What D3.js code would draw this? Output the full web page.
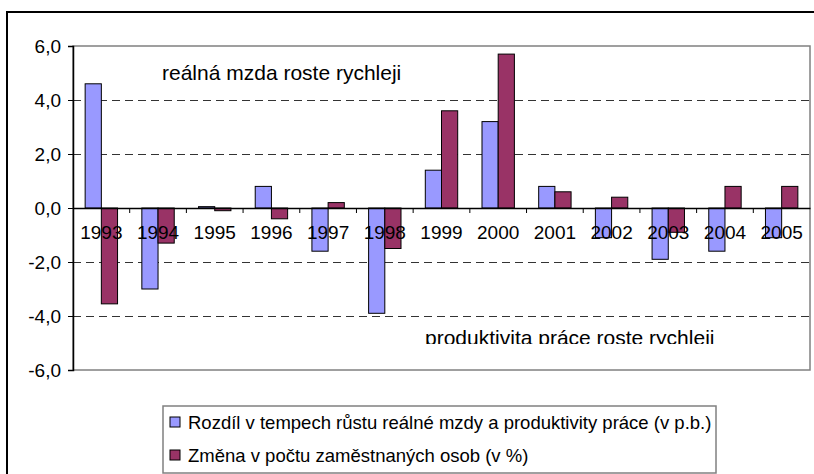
<!DOCTYPE html>
<html>
<head>
<meta charset="utf-8">
<script src="https://d3js.org/d3.v7.min.js"></script>
<style>
  body { margin: 0; background: #fff; }
  text { font-family: "Liberation Sans", Arial, sans-serif; fill: #000; }
</style>
</head>
<body>
<svg width="814" height="474"></svg>
<script>
// chart data
var years = ["1993","1994","1995","1996","1997","1998","1999","2000","2001","2002","2003","2004","2005"];
var wageGap = [4.6, -3.0, 0.05, 0.8, -1.6, -3.9, 1.4, 3.2, 0.8, -1.1, -1.9, -1.6, -1.1];
var employment = [-3.55, -1.3, -0.1, -0.4, 0.2, -1.5, 3.6, 5.7, 0.6, 0.4, -0.9, 0.8, 0.8];
var yTicks = [-6, -4, -2, 0, 2, 4, 6];
var yTickLabels = ["-6,0", "-4,0", "-2,0", "0,0", "2,0", "4,0", "6,0"];
var gridTicks = [-4, -2, 2, 4];
var seriesNames = ["Rozdíl v tempech růstu reálné mzdy a produktivity práce (v p.b.)",
                   "Změna v počtu zaměstnaných osob (v %)"];
var seriesColors = ["#9999ff", "#993366"];

var svg = d3.select("svg");
var pLeft = 73, pRight = 810, pTop = 46, pBottom = 370;

var x = d3.scaleBand().domain(years).range([pLeft, pRight]).padding(0);
var y = d3.scaleLinear().domain([-6, 6]).range([pBottom, pTop]);
// two bars per year, gap = 1.5 bar widths (excel gap 150%)
var barW = x.bandwidth() / 3.5;
var offset = barW * 0.75;

// outer frame
svg.append("rect")
  .attr("x", 7).attr("y", 12).attr("width", 820).attr("height", 480)
  .attr("fill", "none").attr("stroke", "#000").attr("stroke-width", 2);

// plot area border
svg.append("rect")
  .attr("x", pLeft).attr("y", pTop).attr("width", pRight - pLeft).attr("height", pBottom - pTop)
  .attr("fill", "#fff").attr("stroke", "#808080").attr("stroke-width", 1.5);

// dashed gridlines
svg.append("g").selectAll("line")
  .data(gridTicks).enter().append("line")
  .attr("x1", pLeft).attr("x2", pRight)
  .attr("y1", function(d){ return Math.round(y(d)) + 0.5; })
  .attr("y2", function(d){ return Math.round(y(d)) + 0.5; })
  .attr("stroke", "#333").attr("stroke-width", 1)
  .attr("stroke-dasharray", "8,5");

// annotation labels (white boxes)
svg.append("clipPath").attr("id", "clipLabel")
  .append("rect").attr("x", 400).attr("y", 318).attr("width", 346).attr("height", 26);
svg.append("rect").attr("x", 400).attr("y", 318).attr("width", 346).attr("height", 27).attr("fill", "#fff");
svg.append("text")
  .attr("x", 162).attr("y", 80)
  .style("font-size", "21px")
  .text("reálná mzda roste rychleji");
svg.append("g").attr("clip-path", "url(#clipLabel)")
  .append("text")
  .attr("x", 425).attr("y", 345)
  .style("font-size", "21px")
  .text("produktivita práce roste rychleji");

// bars
var series = [wageGap, employment];
series.forEach(function(vals, s) {
  svg.append("g").selectAll("rect")
    .data(vals).enter().append("rect")
    .attr("x", function(d, i){ return x(years[i]) + offset + s * barW; })
    .attr("y", function(d){ return y(Math.max(0, d)); })
    .attr("width", barW)
    .attr("height", function(d){ return Math.abs(y(d) - y(0)); })
    .attr("fill", seriesColors[s])
    .attr("stroke", "#000").attr("stroke-width", 1);
});

// y axis
var yAxis = svg.append("g")
  .attr("transform", "translate(" + pLeft + ",0)")
  .call(d3.axisLeft(y).tickValues(yTicks).tickSize(5).tickPadding(7)
        .tickFormat(function(d, i){ return yTickLabels[i]; }));
yAxis.select(".domain").attr("stroke", "#000").attr("stroke-width", 1.5);
yAxis.selectAll("text").style("font-size", "19px").style("font-family", "Liberation Sans, Arial, sans-serif");

// category axis at zero
var xAxis = svg.append("g")
  .attr("transform", "translate(0," + y(0) + ")")
  .call(d3.axisBottom(x).tickSize(0).tickPadding(18));
xAxis.select(".domain").attr("stroke", "#000").attr("stroke-width", 1.5);
xAxis.selectAll("text").style("font-size", "19px").style("font-family", "Liberation Sans, Arial, sans-serif");
// boundary tick marks
svg.append("g").selectAll("line")
  .data(years.slice(1)).enter().append("line")
  .attr("x1", function(d){ return x(d); }).attr("x2", function(d){ return x(d); })
  .attr("y1", y(0)).attr("y2", y(0) + 5)
  .attr("stroke", "#000").attr("stroke-width", 1);

// legend
var legend = svg.append("g");
legend.append("rect")
  .attr("x", 163).attr("y", 406).attr("width", 553).attr("height", 67)
  .attr("fill", "#fff").attr("stroke", "#808080").attr("stroke-width", 1.5);
seriesNames.forEach(function(name, i) {
  var cy = 422 + i * 33;
  legend.append("rect")
    .attr("x", 170).attr("y", cy - 5).attr("width", 10).attr("height", 10)
    .attr("fill", seriesColors[i]).attr("stroke", "#000").attr("stroke-width", 1);
  legend.append("text")
    .attr("x", 188).attr("y", cy + 6.5)
    .style("font-size", "18.5px")
    .text(name);
});
</script>
</body>
</html>
